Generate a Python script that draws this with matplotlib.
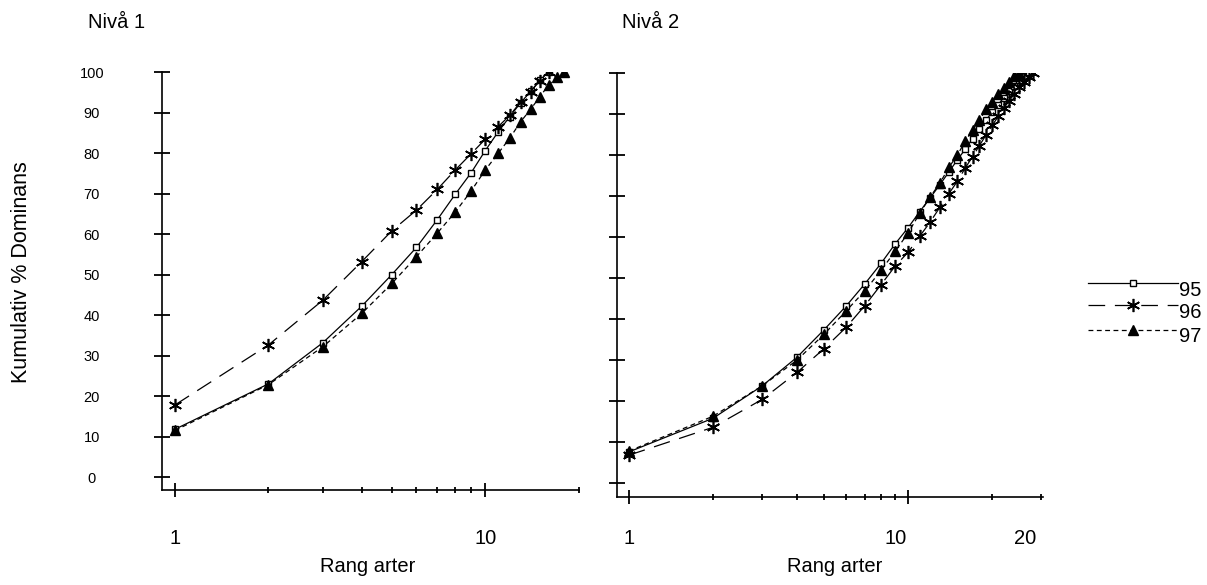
import numpy as np
import matplotlib
matplotlib.use("Agg")
import matplotlib.pyplot as plt
from matplotlib import transforms

plt.rcParams['font.family'] = ['Liberation Sans', 'DejaVu Sans']
plt.rcParams['lines.scale_dashes'] = False

# ---- data (cumulative % dominance by species rank) ----
niva1_95 = [11.8, 23.0, 33.2, 42.2, 50.0, 56.7, 63.5, 69.8, 75.1, 80.6, 85.2, 89.0, 92.4, 95.2, 98.0, 100.0]
niva1_96 = [17.8, 32.6, 43.7, 53.2, 60.8, 65.9, 71.0, 75.8, 79.8, 83.4, 86.5, 89.3, 92.6, 95.1, 97.9, 100.0]
niva1_97 = [11.5, 22.8, 32.2, 40.4, 47.8, 54.4, 60.2, 65.4, 70.6, 75.8, 79.9, 83.7, 87.7, 90.8, 93.9, 96.8, 98.7, 100.0]

niva2_95 = [7.6, 15.8, 23.7, 30.7, 37.4, 43.2, 48.6, 53.6, 58.4, 62.3, 66.2, 69.6, 72.8, 75.9, 78.8, 81.4,
            84.0, 86.3, 88.5, 90.5, 92.3, 94.0, 95.5, 96.9, 98.2, 99.2, 100.0]
niva2_96 = [6.8, 13.6, 20.4, 27.0, 32.8, 38.0, 43.3, 48.4, 53.0, 56.3, 60.2, 63.7, 67.3, 70.6, 73.6, 76.8,
            79.6, 82.3, 84.9, 87.2, 89.4, 91.4, 93.2, 94.9, 96.5, 97.9, 99.1, 100.0]
niva2_97 = [7.8, 16.3, 23.7, 30.0, 36.3, 42.0, 46.9, 51.9, 56.6, 61.0, 65.8, 69.8, 73.2, 77.0, 80.0, 83.3,
            86.1, 88.5, 91.1, 93.0, 94.8, 96.4, 97.9, 99.2, 100.0]

series_labels = ['95', '96', '97']
y_ticks = [0, 10, 20, 30, 40, 50, 60, 70, 80, 90, 100]
titles = ['Nivå 1', 'Nivå 2']
x_label = 'Rang arter'
y_label = 'Kumulativ % Dominans'
left_xlabels = [(1, '1'), (10, '10')]
right_xlabels = [(1, '1'), (9.0, '10'), (26.3, '20')]

W, H = 1207, 585
fig = plt.figure(figsize=(W / 100, H / 100), dpi=100)

def fx(px):
    return px / W

def fy(py):
    return 1 - py / H

FS = 14.5

styles = [
    dict(color='black', lw=0.9, ls='-', marker='s', ms=4.8, mfc='white', mec='black', mew=1.0),
    dict(color='black', lw=0.9, dashes=(12, 7), marker=(6, 2, 0), ms=9.5, mec='black', mew=1.2),
    dict(color='black', lw=0.9, dashes=(3.5, 2.5), marker='^', ms=6.5, mfc='black', mec='black'),
]

def style_axes(ax, ylab_visible):
    for s in ['top', 'right']:
        ax.spines[s].set_visible(False)
    for s in ['left', 'bottom']:
        ax.spines[s].set_linewidth(1.2)
    ax.set_xscale('log')
    ax.set_yticks(y_ticks)
    ax.tick_params(axis='y', direction='inout', length=11, width=1.3,
                   labelsize=10.5, pad=45, labelleft=ylab_visible)
    if ylab_visible:
        for t in ax.get_yticklabels():
            t.set_horizontalalignment('center')
    ax.tick_params(axis='x', which='major', direction='inout', length=10, width=1.3,
                   labelbottom=False)
    ax.tick_params(axis='x', which='minor', direction='inout', length=5, width=1.3,
                   labelbottom=False)

# ---- left panel ----
ax1 = fig.add_axes([fx(162), fy(490), fx(579) - fx(162), fy(72) - fy(490)])
for vals, st in zip([niva1_95, niva1_96, niva1_97], styles):
    ax1.plot(np.arange(1, len(vals) + 1), vals, **st)
ax1.set_xlim(0.908, 20.05)
ax1.set_ylim(-3.2, 100)
style_axes(ax1, True)
ax1.set_xticks([1, 10])
ax1.set_xticks([2, 3, 4, 5, 6, 7, 8, 9, 20], minor=True)
trans1 = transforms.blended_transform_factory(ax1.transData, fig.transFigure)
for xv, lab in left_xlabels:
    ax1.text(xv, fy(538), lab, transform=trans1, ha='center', va='center', fontsize=FS)

# ---- right panel ----
ax2 = fig.add_axes([fx(617), fy(497), fx(1043) - fx(617), fy(73) - fy(497)])
for vals, st in zip([niva2_95, niva2_96, niva2_97], styles):
    ax2.plot(np.arange(1, len(vals) + 1), vals, **st)
ax2.set_xlim(0.906, 30.4)
ax2.set_ylim(-3.4, 100)
style_axes(ax2, False)
ax2.set_xticks([1, 10])
ax2.set_xticks([2, 3, 4, 5, 6, 7, 8, 9, 20, 30], minor=True)
trans2 = transforms.blended_transform_factory(ax2.transData, fig.transFigure)
for xv, lab in right_xlabels:
    ax2.text(xv, fy(538), lab, transform=trans2, ha='center', va='center', fontsize=FS)

# ---- labels ----
fig.text(fx(368), fy(566), x_label, ha='center', va='center', fontsize=FS)
fig.text(fx(835), fy(567), x_label, ha='center', va='center', fontsize=FS)
fig.text(fx(88), fy(22), titles[0], ha='left', va='center', fontsize=FS)
fig.text(fx(622), fy(22), titles[1], ha='left', va='center', fontsize=FS)
fig.text(fx(22), fy(272), y_label, ha='center', va='center', rotation=90, fontsize=15.5)

# ---- legend (drawn manually) ----
axl = fig.add_axes([0, 0, 1, 1], facecolor='none')
axl.set_xlim(0, W)
axl.set_ylim(H, 0)
axl.axis('off')
leg_y = [283, 305, 330]
for yy, st, lab in zip(leg_y, styles, series_labels):
    line_st = {k: v for k, v in st.items() if k not in ('marker', 'ms', 'mfc', 'mec', 'mew')}
    axl.plot([1088, 1178], [yy, yy], **line_st)
    mk = {k: v for k, v in st.items() if k in ('marker', 'ms', 'mfc', 'mec', 'mew')}
    axl.plot([1133], [yy], ls='none', color='black', **mk)
    axl.text(1179, yy + 7, lab, ha='left', va='center', fontsize=FS)

fig.savefig('out.png', dpi=100)
